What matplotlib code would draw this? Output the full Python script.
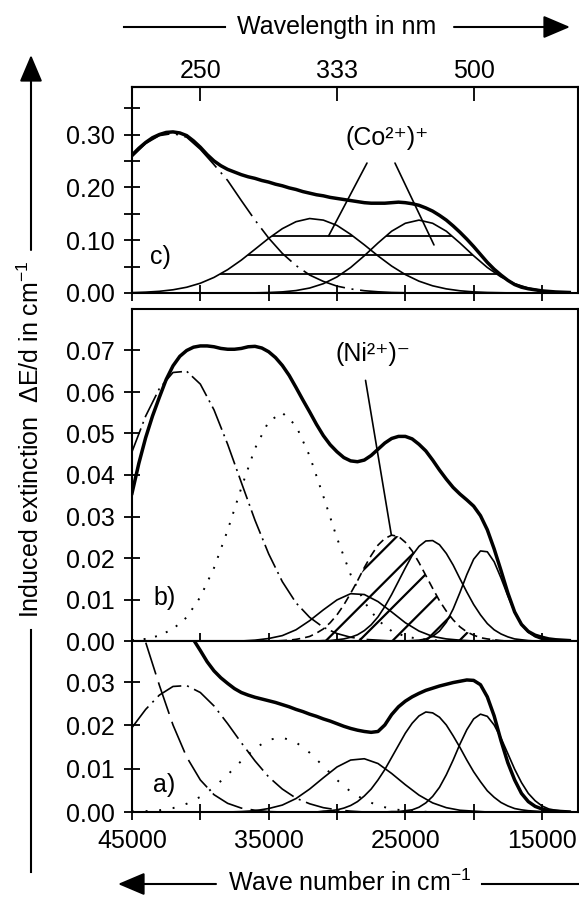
import numpy as np
import matplotlib.pyplot as plt
from matplotlib.ticker import FixedLocator, NullLocator, FormatStrFormatter
from matplotlib.lines import Line2D
from matplotlib.patches import FancyArrowPatch

plt.rcParams['font.family'] = ['Liberation Sans', 'DejaVu Sans']
plt.rcParams['mathtext.fontset'] = 'custom'
plt.rcParams['mathtext.rm'] = 'Liberation Sans'
plt.rcParams['mathtext.it'] = 'Liberation Sans:italic'
plt.rcParams['mathtext.default'] = 'regular'
plt.rcParams['hatch.linewidth'] = 1.6
plt.rcParams['font.size'] = 18

# Wellenzahl-Raster (cm^-1): grob 1000er, fein 500er Schritte, 45000 ... 13000
wn = np.arange(45000, 12000, -1000)
wn_f = np.arange(45000, 12500, -500)

# Panel c
c_total = [0.261, 0.274, 0.285, 0.294, 0.300, 0.304, 0.305, 0.303, 0.298, 0.288,
           0.276, 0.262, 0.250, 0.241, 0.234, 0.229, 0.224, 0.220, 0.217, 0.213,
           0.210, 0.206, 0.203, 0.199, 0.196, 0.192, 0.189, 0.186, 0.184, 0.181,
           0.179, 0.177, 0.175, 0.173, 0.171, 0.170, 0.170, 0.170, 0.171, 0.172,
           0.171, 0.169, 0.166, 0.161, 0.155, 0.147, 0.138, 0.127, 0.115, 0.102,
           0.088, 0.073, 0.058, 0.045, 0.034, 0.024, 0.016, 0.011, 0.008, 0.006,
           0.004, 0.003, 0.002, 0.0015, 0.001]
c_dashdot = [0.258, 0.283, 0.298, 0.302, 0.295, 0.272, 0.243, 0.213, 0.175, 0.138,
             0.104, 0.075, 0.052, 0.034, 0.022, 0.013, 0.0077, 0.0043, 0.0023, 0.001,
             0.0005] + [0] * 12
co_band1 = [0.0007, 0.0016, 0.0032, 0.0061, 0.0109, 0.0185, 0.0295, 0.0442, 0.0623, 0.0828,
            0.1035, 0.1218, 0.135, 0.141, 0.138, 0.128, 0.111, 0.0912, 0.0703, 0.051,
            0.0349, 0.0224, 0.0136, 0.0078, 0.0042, 0.0021, 0.001, 0.0005] + [0] * 5
co_band2 = [0] * 9 + [0.0003,
            0.0009, 0.0021, 0.0046, 0.0094, 0.0176, 0.0304, 0.0483, 0.0705, 0.0946, 0.117,
            0.132, 0.138, 0.132, 0.117, 0.0946, 0.0705, 0.0483, 0.0304, 0.0176, 0.0094,
            0.0046, 0.0021, 0.0009]

# Panel b
b_total = [0.0356, 0.0428, 0.0490, 0.0542, 0.0587, 0.0630, 0.0663, 0.0686, 0.0700, 0.0708,
           0.0711, 0.0711, 0.0709, 0.0705, 0.0703, 0.0703, 0.0705, 0.0709, 0.0710, 0.0706,
           0.0697, 0.0683, 0.0664, 0.0640, 0.0611, 0.0581, 0.0552, 0.0522, 0.0495, 0.0473,
           0.0456, 0.0442, 0.0434, 0.0432, 0.0436, 0.0447, 0.0462, 0.0477, 0.0488, 0.0493,
           0.0493, 0.0487, 0.0474, 0.0458, 0.0436, 0.0412, 0.0390, 0.0370, 0.0354, 0.0340,
           0.0325, 0.0302, 0.0268, 0.0222, 0.0170, 0.0116, 0.0070, 0.0040, 0.0023, 0.0014,
           0.0009, 0.0005, 0.0003, 0.0002, 0.0001]
b_dashdot = [0.0456, 0.0542, 0.0608, 0.0647, 0.0650, 0.0619, 0.0557, 0.0474, 0.0382, 0.0291,
             0.0210, 0.0143, 0.0092, 0.0057, 0.0033, 0.0018, 0.0009, 0.0004, 0.0002] + [0] * 14
b_dotted = [0.0002, 0.0005, 0.0013, 0.0029, 0.0057, 0.0106, 0.0176, 0.0267, 0.0369, 0.0464,
            0.0529, 0.0550, 0.0519, 0.0446, 0.0349, 0.0248, 0.0160, 0.0094, 0.0050, 0.0024,
            0.0011, 0.0005, 0.0002] + [0] * 10
b_band28 = [0] * 9 + [0.0002,
            0.0006, 0.0013, 0.0027, 0.0049, 0.0075, 0.0099, 0.0114, 0.0112, 0.0095, 0.0070,
            0.0044, 0.0024, 0.0011, 0.0005, 0.0002] + [0] * 8
# Ni-Bande und schmale Banden auf dem feinen Raster
ni_band = [0] * 22 + [0.0001, 0.0002, 0.0004, 0.0007, 0.0011, 0.0019, 0.0029, 0.0044,
                      0.0063, 0.0087, 0.0115, 0.0145, 0.0177, 0.0206, 0.0231, 0.0247,
                      0.0255, 0.0252, 0.0238, 0.0217, 0.0189, 0.0158, 0.0127, 0.0097,
                      0.0072, 0.0051, 0.0034, 0.0022, 0.0014, 0.0008, 0.0005, 0.0003,
                      0.0001] + [0] * 10
b_band23 = [0] * 28 + [0.0001, 0.0001, 0.0003, 0.0005, 0.0009, 0.0015, 0.0025, 0.0039,
                       0.0058, 0.0083, 0.0112, 0.0144, 0.0176, 0.0206, 0.0228, 0.0241,
                       0.0242, 0.0232, 0.0211, 0.0183, 0.0150, 0.0118, 0.0088, 0.0063,
                       0.0042, 0.0027, 0.0017, 0.0010, 0.0005, 0.0003, 0.0001] + [0] * 6
b_band19 = [0] * 41 + [0.0001, 0.0002, 0.0005, 0.0011, 0.0024, 0.0045, 0.0077, 0.0117,
                       0.0160, 0.0197, 0.0217, 0.0215, 0.0191, 0.0152, 0.0109, 0.0070,
                       0.0040, 0.0021, 0.0010, 0.0004, 0.0002, 0.0001, 0, 0]

# Panel a
a_total = [0.075, 0.070, 0.066, 0.061, 0.057, 0.053, 0.049, 0.0456, 0.0425, 0.0398,
           0.0373, 0.0347, 0.0326, 0.0310, 0.0297, 0.0285, 0.0276, 0.0270, 0.0265, 0.0261,
           0.0257, 0.0253, 0.0248, 0.0243, 0.0237, 0.0232, 0.0226, 0.0221, 0.0215, 0.0210,
           0.0204, 0.0198, 0.0193, 0.0189, 0.0186, 0.0184, 0.0186, 0.0201, 0.0225, 0.0243,
           0.0256, 0.0266, 0.0274, 0.0281, 0.0286, 0.0291, 0.0295, 0.0299, 0.0302, 0.0305,
           0.0304, 0.0294, 0.0266, 0.0222, 0.0165, 0.0114, 0.0074, 0.0043, 0.0024, 0.0013,
           0.0007, 0.0003, 0.0002, 0.0001, 0]
a_dashed = [0.0482, 0.0392, 0.0293, 0.0201, 0.0127, 0.0074, 0.0040, 0.0020, 0.0009, 0.0004,
            0.0001] + [0] * 22
a_dashdot = [0.0195, 0.0237, 0.0270, 0.0290, 0.0292, 0.0276, 0.0245, 0.0204, 0.0160, 0.0118,
             0.0081, 0.0053, 0.0032, 0.0019, 0.0010, 0.0005, 0.0002] + [0] * 16
a_dotted = [0.0001, 0.0002, 0.0004, 0.0009, 0.0019, 0.0035, 0.0057, 0.0086, 0.0118, 0.0147,
            0.0167, 0.0172, 0.0161, 0.0137, 0.0106, 0.0074, 0.0047, 0.0028, 0.0015, 0.0007,
            0.0003, 0.0001] + [0] * 11
a_band28 = [0] * 8 + [0.0001, 0.0003,
            0.0008, 0.0016, 0.0031, 0.0053, 0.0079, 0.0104, 0.0120, 0.0123, 0.0112, 0.0089,
            0.0063, 0.0039, 0.0021, 0.0010, 0.0004, 0.0002] + [0] * 7
a_band23 = [0] * 28 + [0.0002, 0.0003, 0.0005, 0.0009, 0.0015, 0.0024, 0.0037, 0.0053,
                       0.0074, 0.0098, 0.0126, 0.0154, 0.0182, 0.0205, 0.0222, 0.0231,
                       0.0229, 0.0219, 0.0201, 0.0176, 0.0149, 0.0120, 0.0093, 0.0070,
                       0.0049, 0.0034, 0.0022, 0.0014, 0.0008, 0.0005, 0.0003, 0.0002,
                       0.0001] + [0] * 4
a_band19 = [0] * 38 + [0.0001, 0.0001, 0.0003, 0.0005, 0.0011, 0.0021, 0.0036, 0.0057,
                       0.0086, 0.0120, 0.0157, 0.0190, 0.0215, 0.0226, 0.0221, 0.0201,
                       0.0171, 0.0135, 0.0099, 0.0068, 0.0043, 0.0026, 0.0014, 0.0007,
                       0.0004, 0.0002, 0.0001]

# Achsenbeschriftung
wn_major = [45000, 35000, 25000, 15000]
wn_minor = [40000, 30000, 20000]
nm_ticks = [250, 333, 500]
nm_labels = ['250', '333', '500']
c_yticks = [0.0, 0.1, 0.2, 0.3]
c_yminor = [0.05, 0.15, 0.25, 0.35]
b_yticks = [0.0, 0.01, 0.02, 0.03, 0.04, 0.05, 0.06, 0.07]
a_yticks = [0.0, 0.01, 0.02, 0.03]
hatch_levels = [0.036, 0.072, 0.108]

W, H = 579, 897
fig = plt.figure(figsize=(W / 100, H / 100), dpi=100)


def box(top, bottom):
    return [132 / W, 1 - bottom / H, 445.5 / W, (bottom - top) / H]


ax_c = fig.add_axes(box(87, 293))
ax_b = fig.add_axes(box(309, 641))
ax_a = fig.add_axes(box(641, 812))


def style(ax, ymax, yticks, yminor=None):
    ax.set_xlim(45000, 12400)
    ax.set_ylim(0, ymax)
    ax.xaxis.set_major_locator(FixedLocator(wn_major))
    ax.xaxis.set_minor_locator(FixedLocator(wn_minor))
    ax.yaxis.set_major_locator(FixedLocator(yticks))
    if yminor:
        ax.yaxis.set_minor_locator(FixedLocator(yminor))
    else:
        ax.yaxis.set_minor_locator(NullLocator())
    ax.yaxis.set_major_formatter(FormatStrFormatter('%.2f'))
    ax.tick_params(which='both', direction='inout', length=11, width=1.3, pad=7,
                   labelsize=18)
    for s in ax.spines.values():
        s.set_linewidth(1.5)


thin = dict(color='k', lw=1.2)
thick = dict(color='k', lw=2.5, solid_joinstyle='round')
leader = dict(arrowstyle='-', lw=1.2, shrinkA=0, shrinkB=0)

# --- c ---
ax_c.plot(wn, c_dashdot, ls=(0, (27, 4, 1.2, 4)), **thin)
ax_c.plot(wn, co_band1, **thin)
ax_c.plot(wn, co_band2, **thin)
fill = ax_c.fill_between(wn, 0, np.maximum(co_band1, co_band2),
                         facecolor='none', edgecolor='none')
hl = ax_c.hlines(hatch_levels, 45000, 12400, colors='k', lw=1.3)
hl.set_clip_path(fill.get_paths()[0], ax_c.transData)
ax_c.plot(wn_f, c_total, **thick)
style(ax_c, 0.39, c_yticks, c_yminor)
ax_c.tick_params(labelbottom=False)
ax_c.text(42900, 0.069, 'c)', ha='center', va='center')
ax_c.text(26340, 0.293, '(Co²⁺)⁺', ha='center', va='center')
ax_c.annotate('', xy=(30615, 0.108), xytext=(27805, 0.246), arrowprops=leader)
ax_c.annotate('', xy=(22903, 0.091), xytext=(25756, 0.246), arrowprops=leader)

sec = ax_c.secondary_xaxis('top', functions=(lambda x: 1e7 / np.asarray(x, float),
                                             lambda x: 1e7 / np.asarray(x, float)))
sec.set_xticks(nm_ticks, labels=nm_labels)
sec.xaxis.set_minor_locator(NullLocator())
sec.tick_params(direction='in', length=10, width=1.3, pad=3, labelsize=18)
sec.spines['top'].set_linewidth(1.5)

# --- b ---
ax_b.plot(wn, b_dashdot, ls=(0, (15, 3, 1.2, 3)), **thin)
ax_b.plot(wn, b_dotted, ls=(0, (1, 5)), color='k', lw=1.4)
ax_b.plot(wn, b_band28, **thin)
ax_b.fill_between(wn_f, 0, ni_band, facecolor='none', edgecolor='k', lw=0, hatch='/')
ax_b.plot(wn_f, ni_band, ls=(0, (5, 3)), **thin)
ax_b.plot(wn_f, b_band23, **thin)
ax_b.plot(wn_f, b_band19, **thin)
ax_b.plot(wn_f, b_total, **thick)
style(ax_b, 0.080, b_yticks)
ax_b.tick_params(labelbottom=False)
ax_b.text(42640, 0.0103, 'b)', ha='center', va='center')
ax_b.text(27370, 0.0692, '(Ni²⁺)⁻', ha='center', va='center')
ax_b.annotate('', xy=(26020, 0.0255), xytext=(27910, 0.0628), arrowprops=leader)

# --- a ---
ax_a.plot(wn, a_dashed, ls=(0, (20, 5)), **thin)
ax_a.plot(wn, a_dashdot, ls=(0, (16, 3.5, 1.2, 3.5)), **thin)
ax_a.plot(wn, a_dotted, ls=(0, (1, 6)), color='k', lw=1.4)
ax_a.plot(wn, a_band28, **thin)
ax_a.plot(wn_f, a_band23, **thin)
ax_a.plot(wn_f, a_band19, **thin)
ax_a.plot(wn_f, a_total, **thick)
style(ax_a, 0.0395, a_yticks)
ax_a.text(42640, 0.0062, 'a)', ha='center', va='center')


# Pfeile und Achsentitel im Rahmen
def fp(x, y):
    return (x / W, 1 - y / H)


def line(p, q):
    fig.add_artist(Line2D([p[0], q[0]], [p[1], q[1]], transform=fig.transFigure,
                          color='k', lw=1.5))


def arrow(p, q):
    fig.add_artist(FancyArrowPatch(p, q, transform=fig.transFigure,
                                   arrowstyle='-|>,head_length=1.65,head_width=0.7',
                                   mutation_scale=10, lw=1.5, color='k',
                                   shrinkA=0, shrinkB=0))


line(fp(124, 27), fp(225, 27))
arrow(fp(454, 27), fp(570, 27))
fig.text(*fp(337, 27), 'Wavelength in nm', ha='center', va='center')

arrow(fp(31, 250), fp(31, 55))
line(fp(31, 630), fp(31, 872))
fig.text(*fp(31, 439), 'Induced extinction  \u0394E/d in cm$^{-1}$',
         rotation=90, ha='center', va='center')

arrow(fp(216, 884), fp(118, 884))
line(fp(482, 884), fp(579, 884))
fig.text(*fp(350, 883), 'Wave number in cm$^{-1}$', ha='center', va='center')

fig.savefig('out.png', dpi=100)
